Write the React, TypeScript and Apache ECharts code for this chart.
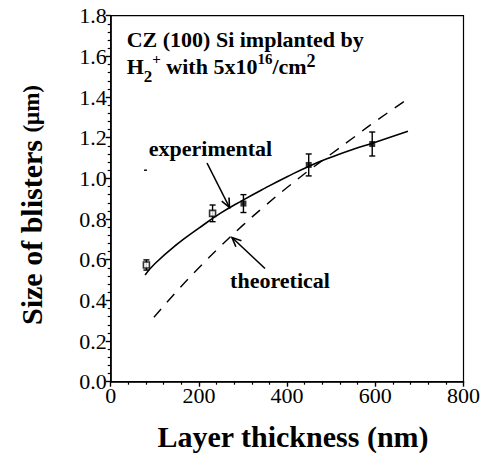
import React, { useEffect, useRef } from "react";
import * as echarts from "echarts";

const xTicks = [0, 200, 400, 600, 800];
const yTicks = [0, 0.2, 0.4, 0.6, 0.8, 1.0, 1.2, 1.4, 1.6, 1.8];

// measured points: [thickness nm, size um, error]
const measured: [number, number, number][] = [
  [81, 0.574, 0.025],
  [231, 0.828, 0.041],
  [301, 0.876, 0.044],
  [449, 1.066, 0.054],
  [593, 1.169, 0.059],
];

const experimentalCurve: [number, number][] = [
  [78, 0.525], [100, 0.58], [150, 0.675], [200, 0.755], [250, 0.83],
  [300, 0.893], [350, 0.952], [400, 1.008], [450, 1.06], [500, 1.104],
  [550, 1.143], [600, 1.178], [674, 1.232],
];

const theoreticalCurve: [number, number][] = [
  [98, 0.317], [150, 0.445], [200, 0.56], [250, 0.668], [300, 0.77],
  [350, 0.865], [400, 0.955], [450, 1.04], [500, 1.12], [550, 1.2],
  [600, 1.28], [668, 1.382],
];

const SERIF = "Liberation Serif";

export default function App() {
  const ref = useRef<HTMLDivElement>(null);
  useEffect(() => {
    if (!ref.current) return;
    const chart = echarts.init(ref.current, null, { renderer: "svg" });
    const arrowHead = (x: number, y: number, ang: number, len = 10, spread = 0.42) => ({
      type: "polyline",
      shape: {
        points: [
          [x + len * Math.cos(ang + spread), y + len * Math.sin(ang + spread)],
          [x, y],
          [x + len * Math.cos(ang - spread), y + len * Math.sin(ang - spread)],
        ],
      },
      style: { stroke: "#000", lineWidth: 1.6, fill: null },
    });
    const a1 = { x1: 207, y1: 163, x2: 229.5, y2: 207.5 };
    const ang1 = Math.atan2(a1.y1 - a1.y2, a1.x1 - a1.x2);
    const a2 = { x1: 265, y1: 268.5, x2: 232, y2: 237.5 };
    const ang2 = Math.atan2(a2.y1 - a2.y2, a2.x1 - a2.x2);

    chart.setOption({
      animation: false,
      backgroundColor: "#fff",
      grid: { left: 110.7, right: 16, top: 15.7, bottom: 71.3, show: true, borderColor: "#000", borderWidth: 1.2 },
      xAxis: {
        type: "value", min: 0, max: 800, interval: 200,
        axisLine: { lineStyle: { color: "#000", width: 1.6 } },
        axisTick: { show: true, length: 5, lineStyle: { color: "#000", width: 1.4 } },
        minorTick: { show: true, splitNumber: 5, length: 3, lineStyle: { color: "#000", width: 1.2 } },
        splitLine: { show: false },
        axisLabel: { color: "#000", fontSize: 22, fontFamily: SERIF, margin: 3,
          formatter: (v: number) => (xTicks.includes(v) ? String(v) : "") },
      },
      yAxis: {
        type: "value", min: 0, max: 1.8, interval: 0.2,
        axisLine: { show: true, lineStyle: { color: "#000", width: 1.6 } },
        axisTick: { show: true, length: 5, lineStyle: { color: "#000", width: 1.4 } },
        minorTick: { show: true, splitNumber: 5, length: 3, lineStyle: { color: "#000", width: 1.2 } },
        splitLine: { show: false },
        axisLabel: { color: "#000", fontSize: 22, fontFamily: SERIF, margin: 4,
          formatter: (v: number) => (yTicks.some((t) => Math.abs(t - v) < 1e-9) ? v.toFixed(1) : "") },
      },
      series: [
        { type: "line", data: experimentalCurve, smooth: true, symbol: "none", lineStyle: { color: "#000", width: 1.6 }, z: 3 },
        { type: "line", data: theoreticalCurve, smooth: true, symbol: "none", lineStyle: { color: "#000", width: 1.4, type: [11, 9] }, z: 3 },
        {
          type: "custom", data: measured, z: 4,
          renderItem: (params: any, api: any) => {
            const x = api.value(0), y = api.value(1), e = api.value(2);
            const top = api.coord([x, y + e]);
            const bot = api.coord([x, y - e]);
            const c = 3;
            const st = { stroke: "#000", lineWidth: 1.4 };
            return {
              type: "group",
              children: [
                { type: "line", shape: { x1: top[0], y1: top[1], x2: bot[0], y2: bot[1] }, style: st },
                { type: "line", shape: { x1: top[0] - c, y1: top[1], x2: top[0] + c, y2: top[1] }, style: st },
                { type: "line", shape: { x1: bot[0] - c, y1: bot[1], x2: bot[0] + c, y2: bot[1] }, style: st },
              ],
            };
          },
        },
        {
          type: "scatter", z: 5, symbol: "rect",
          data: measured.map((m, i) => ({
            value: [m[0], m[1]], symbolSize: 6,
            itemStyle: i < 2 ? { color: "#fff", borderColor: "#000", borderWidth: 1.6 } : { color: "#000" },
          })),
        },
      ],
      graphic: [
        { type: "text", left: 126.7, top: 28,
          style: { text: "CZ (100) Si implanted by", fontSize: 22, fontWeight: "bold", fontFamily: SERIF, fill: "#000" } },
        { type: "text", left: 126.7, top: 51.5,
          style: {
            text: "{b|H}{sub|2}{sup|+}{b| with 5x10}{sup|16}{b|/cm}{sup2|2}", fill: "#000",
            rich: {
              b: { fontSize: 22, fontWeight: "bold", fontFamily: SERIF, lineHeight: 29, fill: "#000" },
              sup: { fontSize: 15, fontWeight: "bold", fontFamily: SERIF, lineHeight: 15, verticalAlign: "top", fill: "#000" },
              sup2: { fontSize: 18, fontWeight: "bold", fontFamily: SERIF, lineHeight: 18, verticalAlign: "top", fill: "#000" },
              sub: { fontSize: 17, fontWeight: "bold", fontFamily: SERIF, lineHeight: 17, verticalAlign: "bottom", fill: "#000", padding: [0, 0, -4, 0] },
            },
          } },
        { type: "text", x: 210.5, y: 148.5,
          style: { text: "experimental", fontSize: 22, fontWeight: "bold", fontFamily: SERIF, fill: "#000", align: "center", verticalAlign: "middle" } },
        { type: "text", x: 280, y: 280,
          style: { text: "theoretical", fontSize: 22, fontWeight: "bold", fontFamily: SERIF, fill: "#000", align: "center", verticalAlign: "middle" } },
        { type: "line", shape: a1, style: { stroke: "#000", lineWidth: 1.6 } },
        arrowHead(a1.x2, a1.y2, ang1),
        { type: "line", shape: a2, style: { stroke: "#000", lineWidth: 1.6 } },
        arrowHead(a2.x2, a2.y2, ang2),
        { type: "rect", shape: { x: 144, y: 169.5, width: 3, height: 1.4 }, style: { fill: "#000" } },
        { type: "text", x: 31, y: 205, rotation: Math.PI / 2,
          style: {
            text: "{a|Size of blisters }{u|(μm)}", align: "center", verticalAlign: "middle", fill: "#000",
            rich: {
              a: { fontSize: 30, fontWeight: "bold", fontFamily: SERIF, fill: "#000" },
              u: { fontSize: 23, fontWeight: "bold", fontFamily: SERIF, fill: "#000" },
            },
          } },
        { type: "text", x: 293, y: 436,
          style: { text: "Layer thickness (nm)", fontSize: 30, fontWeight: "bold", fontFamily: SERIF, fill: "#000", align: "center", verticalAlign: "middle" } },
      ],
    });
    return () => chart.dispose();
  }, []);
  return <div ref={ref} style={{ position: "fixed", left: 0, top: 0, width: 483, height: 453 }} />;
}
